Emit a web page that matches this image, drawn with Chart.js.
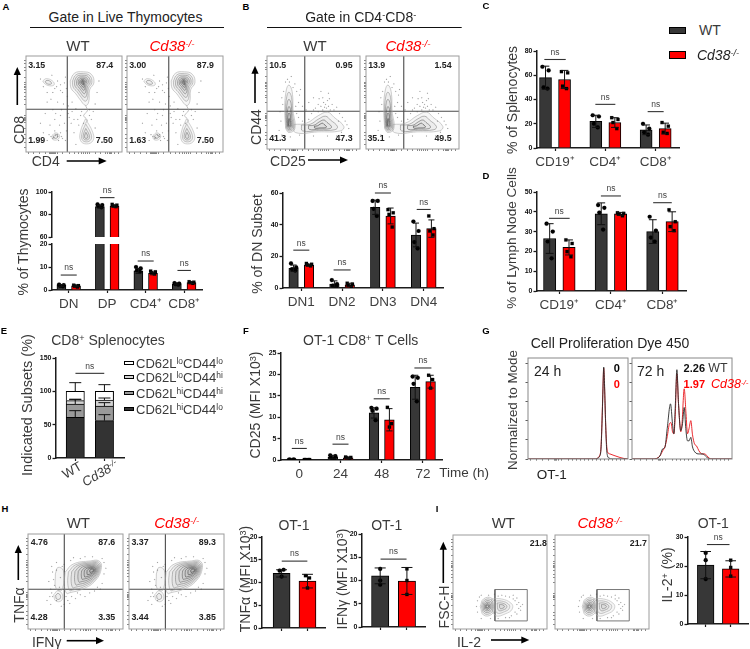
<!DOCTYPE html>
<html><head><meta charset="utf-8">
<script src="https://cdn.jsdelivr.net/npm/chart.js@4"></script>
<style>
html,body{margin:0;padding:0;background:#fff}
#page{position:relative;width:750px;height:649px;overflow:hidden;background:#fff;font-family:"Liberation Sans",Arial,sans-serif;filter:blur(.3px)}
#page canvas{position:absolute}
#page svg{position:absolute;left:0;top:0}
.t{position:absolute;white-space:nowrap;transform-origin:center;color:#3a3a3a;line-height:1}
.t sup{font-size:.65em;line-height:0;vertical-align:baseline;position:relative;top:-.42em}
.sw{position:absolute;box-sizing:border-box}
</style></head><body><div id="page"></div>
<script>
/* ---------- bar values ---------- */
const thymoLabels=['DN','DP','CD4⁺','CD8⁺'];
const thymoWT=[2,87,8.3,2.6], thymoKO=[1.8,87.5,7.2,3.2];
const thymoWTErr=[.4,1.2,1.1,.4], thymoKOErr=[.4,1,.6,.4];
const thymoWTPts=[[2.4,2.1,1.8,1.6],[89,88.4,87.4,86.4],[10,9.4,8.5,7.9],[3,2.8,2.5,2.3]];
const thymoKOPts=[[2.1,1.9,1.7,1.3],[89,88.3,87.6,87],[8.2,7.9,7.5,7],[3.6,3.4,3.2,2.9]];
const dnLabels=['DN1','DN2','DN3','DN4'];
const dnWT=[12.5,2.5,51,33.5], dnKO=[14.5,2,45.5,37.5];
const dnWTErr=[2,2,4.5,7.5], dnKOErr=[.6,1,5,5.5];
const dnWTPts=[[15.5,13,12,11],[5,2.5,1.5,1],[55,55,50,45.5],[42,36,29,25]];
const dnKOPts=[[15.5,15,14.5,14],[3,2.5,1.5,1],[49.5,47.5,46.5,38.5],[45.5,37.5,36,33.5]];
const spLabels=['CD19⁺','CD4⁺','CD8⁺'];
const spWT=[58,22,15], spKO=[56.5,21,16];
const spWTErr=[9.5,5,4], spKOErr=[7.5,4,4.5];
const spWTPts=[[67,64,50,49],[27,26,20,17],[20,16,13,11]];
const spKOPts=[[63,62,51,49],[25,23.5,21,16],[21,18,13,12]];
const lnLabels=['CD19⁺','CD4⁺','CD8⁺'];
const lnWT=[26.5,39,30], lnKO=[22,39,35];
const lnWTErr=[7.5,5.5,6], lnKOErr=[3.8,.7,5];
const lnWTPts=[[34,30,25,16.5],[43.4,42,39.6,31],[37.5,30.5,27,25]];
const lnKOPts=[[25.8,24,19.9,17.3],[39.5,39.2,38.8,38],[41,35,32.5,30.5]];
const timeLabels=['0','24','48','72'];
const cd25WT=[.1,.7,11,17], cd25KO=[.1,.5,9.4,18.3];
const cd25WTErr=[0,.4,1.2,2.8], cd25KOErr=[0,.2,2.6,1.5];
const cd25WTPts=[[.1,.1,.1,.1],[1.1,.9,.5,.2],[12.2,12,11.5,9.3],[19.5,19.2,17.8,13.7]];
const cd25KOPts=[[.1,.1,.1,.1],[.7,.6,.5,.3],[12.3,8.5,7.7],[19.8,18.8,16.8]];
const tnfWT=[12], tnfKO=[10.3], tnfWTErr=[.8], tnfKOErr=[1.5];
const tnfWTPts=[[12.6,12.8,11.3]], tnfKOPts=[[11.5,11,8.8]];
const ifnWT=[11], ifnKO=[9.9], ifnWTErr=[1.7], ifnKOErr=[2.9];
const ifnWTPts=[[12.5,10,9.1]], ifnKOPts=[[12.5,10,7]];
const il2WT=[20.3], il2KO=[19], il2WTErr=[4.7], il2KOErr=[2.8];
const il2WTPts=[[24.5,22,15.5]], il2KOPts=[[22,19.5,16.5]];
/* stacked subsets: bottom to top */
const subsetNames=['CD62L<sup>hi</sup>CD44<sup>lo</sup>','CD62L<sup>hi</sup>CD44<sup>hi</sup>','CD62L<sup>lo</sup>CD44<sup>hi</sup>','CD62L<sup>lo</sup>CD44<sup>lo</sup>'];
const subsetColors=['#333333','#9a9a9a','#d2d2d2','#ffffff'];
const subsetWT=[61,20,5,14], subsetKO=[56,22,9,13];
const subsetWTErr=[10,7,2,13], subsetKOErr=[9,5,3,10];
/* histograms */
const hist24WT=[[0,0],[68,0],[70,1],[71.5,2.5],[73,10],[74,35],[75,70],[75.7,91],[76.5,75],[77.5,40],[78.5,12],[79.5,3],[81,1],[84,0],[100,0]];
const hist24KO=[[0,0],[68,0],[70,1.5],[71.5,3],[73,12],[74,38],[75,72],[75.7,90],[76.5,72],[77.5,38],[78.5,16],[79.5,7],[82,5],[86,3.5],[92,1.5],[96,.5],[100,0]];
const hist72WT=[[0,0],[21.3,0],[27.9,3],[30.6,10],[32.9,11.6],[35.2,30],[38.5,54.6],[40.5,35],[41.9,25],[43.2,50],[44.9,88.4],[46.5,55],[48.8,28],[50.5,35],[52.2,51],[53.8,30],[55.5,18],[57.1,18],[58.8,21.5],[60.5,12],[62.8,7],[67.1,5],[71,5],[74.4,2],[78.4,0],[100,0]];
const hist72KO=[[0,0],[21,0],[27.9,3],[30.6,8],[32.9,12],[35.2,22],[37.5,35],[39,36],[40.5,27],[41.9,25],[43.2,42],[44.9,84.4],[46.5,55],[48.8,27],[50,35],[52.2,69.5],[54,45],[55.5,25],[57,30],[58.8,38],[60.5,24],[62.5,15],[64.5,13],[67,8],[70,5],[73,5],[75,3],[79,0],[100,0]];
const histYTicks=[0,19,38,57,76,95];
const histXTicks=[2,8,14,20,26,27,28,30,33,40,44,48,52,56,60,64,68,72,76,80,84,88,92,96];
/* flow cytometry outlines */
const dpOuter=[[46,74],[50.5,82],[59.6,83.5],[68,81],[70.7,72],[66.4,65],[65.3,52],[62,48.5],[56,55],[51.9,60.6],[47,66.3],[46,74]];
const dpTail=[[62,48.5],[64,43],[60,38],[64,33],[62,30]];
const spOuter=[[62,34.7],[69.7,20],[69.7,11.8],[63,8.4],[56.9,11.8],[56.9,21.9],[62,34.7]];
const cd8Outer=[[17.5,74],[20.9,76.4],[27.6,74],[29.3,70],[24.2,69],[19.2,71.4],[17.5,74]];
const dnSmall=[[27,17],[31,20],[35,17],[33,13],[28,13],[27,17]];
const dotsA=[[15,76],[18,68],[27,80],[30,66],[33,74],[36,70],[38,62],[41,78],[43,58],[33,52],[26,55],[39,50],[44,48],[48,52],[52,45],[58,42],[66,44],[70,42],[72,50],[74,62],[76,74],[60,30],[66,38],[57,38],[55,28],[72,25],[74,15],[50,20],[52,8],[20,40],[28,44],[36,38],[40,30],[25,28],[30,22],[33,18],[28,14],[34,12],[36,20],[24,18],[38,14],[42,22],[45,36],[15,30],[22,52],[47,30],[48,42],[30,34],[35,28],[31,17],[33,16],[29,15],[26,16],[37,16],[42,66],[40,72],[36,64],[32,68],[28,62],[22,62],[44,40],[50,34],[54,34],[68,34],[37,44],[31,40],[41,12],[22,12],[18,20]];
const dnVert=[[20,21.9],[19.1,44.4],[20.8,63.5],[23.6,68.8],[27,61.8],[28.1,41],[29.9,21.9],[23.6,17.7],[20,21.9]];
const dnHoriz=[[28.8,26.4],[42.4,27.8],[54.9,35.7],[65,39.6],[72.2,34],[82.6,24.3],[79,19.5],[54.9,18.4],[30.6,17.7],[28.8,26.4]];
const dotsB=[[22,75],[26,78],[24,72],[20,72],[30,70],[28,66],[32,62],[35,58],[34,50],[38,46],[42,42],[36,64],[38,30],[45,32],[50,42],[55,48],[60,55],[65,52],[62,45],[70,48],[66,60],[75,45],[58,62],[50,55],[45,50],[78,38],[84,30],[88,22],[80,18],[14,40],[15,30],[16,55],[13,20],[16,15],[25,13],[35,15],[50,14],[65,14],[75,14],[55,40],[60,42],[64,44],[68,42],[58,46],[63,48],[66,46],[72,42],[48,38],[52,44],[31,46],[32,38],[34,34],[17,48],[18,62],[86,26],[77,30],[81,34],[56,54],[61,50],[67,54]];
const tnfBig=[[39,59.7],[47.5,68.3],[66,71.7],[74.6,71.7],[77.3,64.8],[71.2,51.2],[57.6,42],[44,38.2],[40.7,37.5],[38.3,46],[39,59.7]];
const tnfLow=[[27,36],[31.5,40.3],[36.3,36],[35,29.7],[29,29.7],[27,36]];
const tnfCol=[[28.8,58],[31.5,64.8],[37.3,61.4],[35.6,41],[29.5,42.7],[28.8,58]];
const dotsH=[[25,66],[30,70],[22,50],[24,42],[20,30],[24,26],[38,26],[42,30],[50,32],[60,34],[70,40],[78,48],[80,58],[80,70],[78,74],[68,76],[55,74],[45,72],[38,68],[30,30],[35,24],[55,36],[65,38],[73,44],[26,60],[26,34],[40,34],[27,52],[28,46],[33,44],[34,54],[30,62],[46,34],[52,38],[82,64],[76,42],[48,75],[60,76],[36,66],[25,38],[23,34],[44,27]];
const il2Ball=[[29,24],[32.5,32],[41,32.8],[44.5,24],[41,15.5],[32.5,14.8],[29,24]];
const il2Tail=[[41,32],[51.4,32],[61.6,27.6],[63.4,22.4],[58.2,17.2],[44.5,14.8],[41,32]];
const dotsI=[[60,34],[66,30],[68,26],[70,22],[66,18],[62,14],[56,12],[48,11],[40,11],[30,11],[26,18],[26,30],[30,36],[38,36],[48,35],[56,35],[64,32],[72,24],[72,20],[68,33],[74,26],[70,28],[64,36],[52,36],[68,16],[60,12],[44,37],[28,34],[25,24]];
const gateI=[[44.6,8.6],[79,8.6],[79,42],[44.6,42],[44.6,8.6]];
const flowXTicks=[3,8,14,20,24,26,27,28,29,30,31,33,38,45,50,55,58,60,62,64,66,72,78,83,85,87,88,89,92,96];
const flowYTicks=[5,10,14,18,25,31,33,34,35,36,38,50,55,58,62,65,67,68,70,72,78,85,88,92,95];
const ringsDP=[1,.82,.66,.5,.36,.24,.14,.07];
const ringsFour=[1,.72,.46,.24];
const ringsTwo=[1,.55];
const ringsOne=[1];
const ringsBig=[1,.88,.76,.64,.52,.4,.3,.2,.1];
const ringsBall=[1,.82,.64,.46,.3,.16];

const FONT='"Liberation Sans",Arial,sans-serif';
const page=document.getElementById('page');
Chart.defaults.font.family=FONT;
const BASE={responsive:false,animation:false,devicePixelRatio:1,events:[]};
const AXC='#1c1c1c';

function mkCanvas(p,pad){
  const c=document.createElement('canvas');
  c.width=Math.round(p[1]-p[0]+pad.left+pad.right);
  c.height=Math.round(p[3]-p[2]+pad.top+pad.bottom);
  c.style.left=(p[0]-pad.left)+'px';c.style.top=(p[2]-pad.top)+'px';
  page.appendChild(c);return c;
}
function flat(s,w,h){
  if(h!==undefined)s.height=h;if(w!==undefined)s.width=w;
  s.paddingLeft=s.paddingRight=s.paddingTop=s.paddingBottom=0;
}
/* grouped bar panel with points, error bars and ns brackets */
function barPanel(o){
  const [x0,x1,yT,yB]=o.plot;
  const pad={left:30,right:8,top:16,bottom:30};
  const u=px=>px/o.step;
  const xMin=(x0-o.c0)/o.step,xMax=(x1-o.c0)/o.step,off=u(o.off);
  const mk=(vals,sign)=>vals.map((v,i)=>({x:i+sign*off,y:v}));
  const jit={3:[-2,2,0],4:[-2.6,2.6,-1.6,1.6]};
  const pts=(arr,sign)=>arr.flatMap((g,i)=>g.map((v,j)=>({x:i+sign*off+u((jit[g.length]||jit[4])[j]*(o.jit===undefined?1:o.jit)),y:v})));
  const bw=o.barW;
  const ds=[
   {type:'scatter',data:pts(o.wtPts,-1),backgroundColor:'#000',pointStyle:'circle',pointRadius:o.r||2.1,order:0},
   {type:'scatter',data:pts(o.koPts,1),backgroundColor:'#000',pointStyle:'rect',pointRadius:(o.r||2.1)*1.1,order:0},
   {type:'bar',data:mk(o.wt,-1),backgroundColor:'#373737',borderColor:'#000',borderWidth:1,maxBarThickness:bw,barPercentage:1,categoryPercentage:1,grouped:false,order:1},
   {type:'bar',data:mk(o.ko,1),backgroundColor:'#ff0000',borderColor:'#000',borderWidth:1,maxBarThickness:bw,barPercentage:1,categoryPercentage:1,grouped:false,order:1}
  ];
  const tickVals=o.barTicks?[-off,off]:o.labels.map((_,i)=>i);
  const overlay={id:'marks',afterDatasetsDraw(ch){
    const X=ch.scales.x,Y=ch.scales.y,c=ch.ctx;
    c.save();c.strokeStyle='#111';c.lineWidth=1;
    const cap=bw*.32;
    [[o.wt,o.wtErr,-1],[o.ko,o.koErr,1]].forEach(([m,e,s])=>m.forEach((v,i)=>{
      if(v<Y.min||v>Y.max||!e[i])return;
      const px=X.getPixelForValue(i+s*off),a=Y.getPixelForValue(v-e[i]),b=Y.getPixelForValue(v+e[i]);
      c.beginPath();c.moveTo(px,a);c.lineTo(px,b);c.moveTo(px-cap,a);c.lineTo(px+cap,a);c.moveTo(px-cap,b);c.lineTo(px+cap,b);c.stroke();
    }));
    (o.ns||[]).forEach(([g,val,half])=>{
      const px=X.getPixelForValue(g),py=Y.getPixelForValue(val);
      c.strokeStyle='#333';c.lineWidth=1.1;c.beginPath();c.moveTo(px-half,py);c.lineTo(px+half,py);c.stroke();
      c.fillStyle='#444';c.font='8.5px '+FONT;c.textAlign='center';c.textBaseline='middle';c.fillText('ns',px,py-7);
    });
    c.restore();
  }};
  new Chart(mkCanvas(o.plot,pad),{type:'bar',data:{datasets:ds},plugins:[overlay],options:{...BASE,
    layout:{padding:{left:0,right:pad.right,top:pad.top,bottom:0}},
    plugins:{legend:{display:false},tooltip:{enabled:false}},
    scales:{
      x:{type:'linear',offset:false,display:o.noX?false:true,min:xMin,max:xMax,
        afterBuildTicks(s){s.ticks=tickVals.map(v=>({value:v}));},
        afterFit(s){flat(s,undefined,pad.bottom);},
        grid:{offset:false,drawOnChartArea:false,tickLength:3,tickWidth:1.2,tickColor:AXC},
        border:{color:AXC,width:1.5},
        ticks:{autoSkip:false,maxRotation:0,padding:o.labPad===undefined?3:o.labPad,color:'#3f3f3f',font:{size:13.5},
          callback:(v,i)=>o.barTicks?'':o.labels[i]}},
      y:{type:'linear',min:o.yMin,max:o.yMax,
        afterBuildTicks(s){const t=[];for(let v=o.yMin;v<=o.yMax+1e-6;v+=o.yStep)t.push({value:v});s.ticks=t;},
        afterFit(s){flat(s,pad.left);},
        grid:{drawOnChartArea:false,tickLength:3.5,tickWidth:1.3,tickColor:AXC},
        border:{color:AXC,width:1.5},
        ticks:{padding:1,color:'#111',font:{size:7,weight:'bold'}}}
    }}});
}
/* flow plots: contours as closed line datasets on 0-100 axes */
function ringSet(outline,center,scales,dark){
  const n=scales.length;
  return scales.map((s,i)=>{
    const shade=n>1?Math.round((dark?165:175)-(dark?125:65)*i/(n-1)):165;
    return {data:outline.map(p=>({x:center[0]+(p[0]-center[0])*s,y:center[1]+(p[1]-center[1])*s})),
      showLine:true,tension:.45,pointRadius:0,borderWidth:.55,
      borderColor:`rgb(${shade},${shade},${shade})`,fill:'shape',backgroundColor:'rgba(70,70,70,.05)'};
  });
}
function plain(points,color,w,tension){
  return {data:points.map(p=>({x:p[0],y:p[1]})),showLine:true,pointRadius:0,borderColor:color,borderWidth:w,tension:tension||0,fill:false};
}
function flowPanel(o){
  const pad={left:5,right:2,top:2,bottom:5};
  const ds=[];
  (o.quad?[plain([[o.quad[0],0],[o.quad[0],100]],'#4a4a4a',1.1),plain([[0,o.quad[1]],[100,o.quad[1]]],'#4a4a4a',1.1)]:[]).forEach(d=>ds.push(d));
  if(o.gate)ds.push(plain(o.gate,'#6a6a6a',.9));
  (o.lines||[]).forEach(l=>ds.push(plain(l,'#9a9a9a',.6,.3)));
  (o.rings||[]).forEach(r=>ringSet(r[0],r[1],r[2],r[3]).forEach(d=>ds.push(d)));
  ds.push({data:o.dots.map(p=>({x:p[0]+(o.dx||0),y:p[1]+(o.dy||0)})),pointRadius:.42,backgroundColor:'#777',showLine:false});
  ds.reverse();
  const frame={id:'frame',afterDraw(ch){const a=ch.chartArea,c=ch.ctx;c.save();c.strokeStyle='#9c9c9c';c.lineWidth=1;c.strokeRect(a.left,a.top,a.width,a.height);c.restore();}};
  new Chart(mkCanvas(o.plot,pad),{type:'scatter',data:{datasets:ds},plugins:[frame],options:{...BASE,layout:{padding:{left:0,right:pad.right,top:pad.top,bottom:0}},
    plugins:{legend:{display:false},tooltip:{enabled:false}},
    scales:{
      x:{type:'linear',min:0,max:100,afterBuildTicks(s){s.ticks=flowXTicks.map(v=>({value:v}));},afterFit(s){flat(s,undefined,pad.bottom);},
        grid:{drawOnChartArea:false,tickLength:2,tickWidth:.7,tickColor:'#555'},border:{display:false},ticks:{display:false}},
      y:{type:'linear',min:0,max:100,afterBuildTicks(s){s.ticks=flowYTicks.map(v=>({value:v}));},afterFit(s){flat(s,pad.left);},
        grid:{drawOnChartArea:false,tickLength:2,tickWidth:.7,tickColor:'#555'},border:{display:false},ticks:{display:false}}
    }}});
}
function histPanel(plot,wt,ko){
  const pad={left:5,right:2,top:2,bottom:5};
  const ln=(a,c,w)=>({data:a.map(p=>({x:p[0],y:p[1]})),showLine:true,pointRadius:0,borderColor:c,borderWidth:w,cubicInterpolationMode:'monotone',fill:false});
  const frame={id:'frame',afterDraw(ch){const a=ch.chartArea,c=ch.ctx;c.save();c.strokeStyle='#888';c.lineWidth=1;c.strokeRect(a.left,a.top,a.width,a.height);c.restore();}};
  new Chart(mkCanvas(plot,pad),{type:'scatter',data:{datasets:[ln(wt,'#2a2a2a',.9),ln(ko,'#e8141a',.9)]},plugins:[frame],options:{...BASE,layout:{padding:{left:0,right:pad.right,top:pad.top,bottom:0}},
    plugins:{legend:{display:false},tooltip:{enabled:false}},
    scales:{
      x:{type:'linear',min:0,max:100,afterBuildTicks(s){s.ticks=histXTicks.map(v=>({value:v}));},afterFit(s){flat(s,undefined,pad.bottom);},
        grid:{drawOnChartArea:false,tickLength:1.6,tickWidth:.7,tickColor:'#333'},border:{display:false},ticks:{display:false}},
      y:{type:'linear',min:0,max:100,afterBuildTicks(s){s.ticks=histYTicks.map(v=>({value:v}));},afterFit(s){flat(s,pad.left);},
        grid:{drawOnChartArea:false,tickLength:2.5,tickWidth:.8,tickColor:'#333'},border:{display:false},ticks:{display:false}}
    }}});
}
/* ---------- text + small DOM helpers ---------- */
function T(html,x,y,o){o=o||{};
  const d=document.createElement('div');d.className='t';d.innerHTML=html;
  d.style.left=x+'px';d.style.top=y+'px';
  d.style.fontSize=(o.s||14)+'px';
  d.style.transform=o.left?`translate(0,-50%)`:`translate(-50%,-50%) rotate(${o.r||0}deg)`;
  if(o.c)d.style.color=o.c; if(o.b)d.style.fontWeight='bold'; if(o.i)d.style.fontStyle='italic';
  page.appendChild(d);
}
const KO='Cd38<sup>-/-</sup>';
const NS='http://www.w3.org/2000/svg';
const svg=document.createElementNS(NS,'svg');svg.setAttribute('width',750);svg.setAttribute('height',649);
function sv(tag,a){const e=document.createElementNS(NS,tag);for(const k in a)e.setAttribute(k,a[k]);svg.appendChild(e);}
function rule(x1,x2,y){sv('line',{x1,x2,y1:y,y2:y,stroke:'#111','stroke-width':1});}
function arrow(x1,y1,x2,y2){
  const up=x1===x2;
  if(up){sv('line',{x1,x2,y1,y2:y2+7,stroke:'#000','stroke-width':1.6});sv('polygon',{points:`${x2},${y2} ${x2-3.6},${y2+8} ${x2+3.6},${y2+8}`,fill:'#000'});}
  else{sv('line',{x1,x2:x2-7,y1,y2,stroke:'#000','stroke-width':1.6});sv('polygon',{points:`${x2},${y2} ${x2-8},${y2-3.6} ${x2-8},${y2+3.6}`,fill:'#000'});}
}
function box(x,y,w,h,bg,bd){const d=document.createElement('div');d.className='sw';d.style.cssText=`left:${x}px;top:${y}px;width:${w}px;height:${h}px;background:${bg};border:${bd}`;page.appendChild(d);}

/* ---------- A ---------- */
const dpC=[59,73],spC=[62.5,16],c8C=[23,72.5];
const aRings=[[dpOuter,dpC,ringsDP,true],[spOuter,spC,ringsFour],[cd8Outer,c8C,ringsTwo],[dnSmall,[31,16.5],ringsTwo]];
flowPanel({plot:[26,125,52.7,151.7],quad:[43,44.6],rings:aRings,lines:[dpTail],dots:dotsA});
flowPanel({plot:[126.7,225.7,52.7,151.7],quad:[43.5,44.6],rings:aRings,lines:[dpTail],dots:dotsA,dx:1});
const aCommon={c0:68.7,step:38.4,off:7.3,barW:9,labels:thymoLabels,wt:thymoWT,ko:thymoKO,wtErr:thymoWTErr,koErr:thymoKOErr,wtPts:thymoWTPts,koPts:thymoKOPts,jit:.9};
barPanel({...aCommon,plot:[52,201.7,191.7,236.7],yMin:60,yMax:100,yStep:10,noX:true,ns:[[1,95,7.3]]});
barPanel({...aCommon,plot:[52,201.7,244.3,290],yMin:0,yMax:20,yStep:10,labPad:3,ns:[[0,6.5,8],[2,12.6,8],[3,8.5,6.7]]});
/* ---------- B ---------- */
const bRings=[[dnVert,[23.8,26],ringsBall,true],[dnHoriz,[58,24],ringsFour,true]];
flowPanel({plot:[267.3,363.3,53.3,149.3],quad:[40.6,40.6],rings:bRings,dots:dotsB});
flowPanel({plot:[366,462,53.3,149.3],quad:[40.6,40.6],rings:bRings,dots:dotsB});
barPanel({plot:[282.7,442.7,192.7,287.3],c0:301,step:40.8,off:7.7,barW:9.5,labels:dnLabels,wt:dnWT,ko:dnKO,wtErr:dnWTErr,koErr:dnKOErr,wtPts:dnWTPts,koPts:dnKOPts,yMin:0,yMax:60,yStep:20,ns:[[0,23.9,8],[1,11.4,8.5],[2,60,8],[3,49.6,7]]});
/* ---------- C, D ---------- */
barPanel({plot:[537.3,679,50.7,147.3],c0:555.3,step:50.2,off:9.5,barW:12,labels:spLabels,wt:spWT,ko:spKO,wtErr:spWTErr,koErr:spKOErr,wtPts:spWTPts,koPts:spKOPts,yMin:0,yMax:80,yStep:20,ns:[[0,73,10.7],[1,36,10],[2,30,8]],jit:1.2});
barPanel({plot:[537.3,686.7,192,291],c0:559.7,step:51.7,off:9.7,barW:12.3,labels:lnLabels,wt:lnWT,ko:lnKO,wtErr:lnWTErr,koErr:lnKOErr,wtPts:lnWTPts,koPts:lnKOPts,yMin:0,yMax:50,yStep:10,ns:[[0,36.7,10.3],[1,48,10],[2,44.6,9.3]],jit:1.2});
/* ---------- E stacked ---------- */
(function(){
  const plot=[55.7,123.3,358.3,458.3],pad={left:30,right:8,top:10,bottom:10};
  const ds=subsetColors.map((c,i)=>({data:[{x:0,y:subsetWT[i]},{x:1,y:subsetKO[i]}],backgroundColor:c,borderColor:'#000',borderWidth:1,maxBarThickness:18.3,barPercentage:1,categoryPercentage:1,grouped:false}));
  const overlay={id:'marks',afterDatasetsDraw(ch){
    const X=ch.scales.x,Y=ch.scales.y,c=ch.ctx;c.save();c.strokeStyle='#111';c.lineWidth=1;
    [[subsetWT,subsetWTErr,0],[subsetKO,subsetKOErr,1]].forEach(([vals,errs,g])=>{
      let sum=0;vals.forEach((v,i)=>{sum+=v;
        const px=X.getPixelForValue(g),a=Y.getPixelForValue(sum),b=Y.getPixelForValue(sum+errs[i]);
        c.beginPath();c.moveTo(px,a);c.lineTo(px,b);c.moveTo(px-6,b);c.lineTo(px+6,b);c.stroke();});
    });
    const py=Y.getPixelForValue(127),p0=X.getPixelForValue(.5);
    c.strokeStyle='#333';c.lineWidth=1.1;c.beginPath();c.moveTo(p0-14.4,py);c.lineTo(p0+14.4,py);c.stroke();
    c.fillStyle='#444';c.font='8.5px '+FONT;c.textAlign='center';c.textBaseline='middle';c.fillText('ns',p0,py-7);
    c.restore();}};
  const c0=74.85,step=29;
  new Chart(mkCanvas(plot,pad),{type:'bar',data:{datasets:ds},plugins:[overlay],options:{...BASE,layout:{padding:{left:0,right:pad.right,top:pad.top,bottom:0}},
    plugins:{legend:{display:false},tooltip:{enabled:false}},
    scales:{
      x:{type:'linear',offset:false,min:(plot[0]-c0)/step,max:(plot[1]-c0)/step,afterBuildTicks(s){s.ticks=[{value:0},{value:1}];},afterFit(s){flat(s,undefined,pad.bottom);},
         grid:{offset:false,drawOnChartArea:false,tickLength:3,tickWidth:1.2,tickColor:AXC},border:{color:AXC,width:1.5},ticks:{display:false}},
      y:{type:'linear',stacked:true,min:0,max:150,afterBuildTicks(s){s.ticks=[0,50,100,150].map(v=>({value:v}));},afterFit(s){flat(s,pad.left);},
         grid:{drawOnChartArea:false,tickLength:3.5,tickWidth:1.3,tickColor:AXC},border:{color:AXC,width:1.5},ticks:{padding:1,color:'#111',font:{size:7,weight:'bold'}}}
    }}});
})();
/* ---------- F ---------- */
barPanel({plot:[280.7,441.7,353.3,460],c0:299,step:41.2,off:7.7,barW:9.7,labels:timeLabels,wt:cd25WT,ko:cd25KO,wtErr:cd25WTErr,koErr:cd25KOErr,wtPts:cd25WTPts,koPts:cd25KOPts,yMin:0,yMax:25,yStep:5,ns:[[0,2.7,7.5],[1,3.7,8],[2,14.3,8],[3,21.5,8.5]]});
/* ---------- G ---------- */
histPanel([527.7,628,357.7,458.3],hist24WT,hist24KO);
histPanel([632,732.3,357.7,458.3],hist72WT,hist72KO);
/* ---------- H ---------- */
const hRings=[[tnfBig,[68,62],ringsBig,true],[tnfLow,[31.5,34],ringsTwo],[tnfCol,[33,52],ringsOne]];
flowPanel({plot:[28.3,126.7,530.7,628.3],quad:[38.2,41.9],rings:hRings,dots:dotsH});
flowPanel({plot:[128.7,227,530.7,628.3],quad:[38.3,41.9],rings:hRings,dots:dotsH});
barPanel({plot:[261.7,325,536.7,627.3],c0:294.4,step:26,off:13,barW:17,labels:[''],barTicks:true,wt:tnfWT,ko:tnfKO,wtErr:tnfWTErr,koErr:tnfKOErr,wtPts:tnfWTPts,koPts:tnfKOPts,yMin:0,yMax:20,yStep:5,ns:[[0,14.7,12.8]]});
barPanel({plot:[362.3,425,534,627.3],c0:393.7,step:26.6,off:13.3,barW:17.3,labels:[''],barTicks:true,wt:ifnWT,ko:ifnKO,wtErr:ifnWTErr,koErr:ifnKOErr,wtPts:ifnWTPts,koPts:ifnKOPts,yMin:0,yMax:20,yStep:5,jit:0,ns:[[0,14.6,13]]});
/* ---------- I ---------- */
const iRings=[[il2Tail,[52,24],ringsFour],[il2Ball,[36.5,24],ringsBall,true]];
flowPanel({plot:[453.3,550.7,531.7,628.3],gate:gateI,rings:iRings,dots:dotsI});
flowPanel({plot:[554.7,651.7,531.7,628.3],gate:gateI,rings:iRings,dots:dotsI});
barPanel({plot:[688.3,748.3,537.3,624.3],c0:718.5,step:25,off:12.5,barW:16.6,labels:[''],barTicks:true,wt:il2WT,ko:il2KO,wtErr:il2WTErr,koErr:il2KOErr,wtPts:il2WTPts,koPts:il2KOPts,yMin:0,yMax:30,yStep:10,jit:0,ns:[[0,27.4,11.3]]});

/* ---------- annotations ---------- */
[['A',6,7],['B',246,7],['C',486,6],['D',486,176],['E',4,331],['F',246,331],['G',486,331],['H',5,509],['I',437,509]].forEach(p=>T(p[0],p[1],p[2],{s:9.5,b:true,c:'#000'}));
T('Gate in Live Thymocytes',125.5,16.5,{s:14,c:'#222'});rule(30,224,27.5);
T('Gate in CD4<sup>-</sup>CD8<sup>-</sup>',360.7,16.5,{s:14,c:'#222'});rule(267,461.7,27.5);
[[78,45],[315,45],[78.3,521.7],[503.3,521.7]].forEach(p=>T('WT',p[0],p[1],{s:15}));
[[172,45],[408,45],[176.7,521.7],[600,521.7]].forEach(p=>T(KO,p[0],p[1],{s:15,c:'#ff0000',i:true}));
const flowNums=[['3.15',36.7,65],['87.4',104.7,65],['1.99',36.7,140],['7.50',104.3,140],['3.00',137.7,65],['87.9',205.3,65],['1.63',137.7,140],['7.50',205.3,140],
['10.5',277.7,65],['0.95',344,65],['41.3',277.7,138.3],['47.3',344,138.3],['13.9',376.7,65],['1.54',443,65],['35.1',376,138.3],['49.5',443,138.3],
['4.76',39.3,542.3],['87.6',106.7,542.3],['4.28',39,616.7],['3.35',106.7,616.7],['3.37',140,542.3],['89.3',207.3,542.3],['3.44',140,616.7],['3.85',207.3,616.7],
['21.8',538.3,543.3],['21.7',638.3,543.3]];
flowNums.forEach(n=>T(n[0],n[1],n[2],{s:8.8,b:true,c:'#222'}));
T('CD8',19,130,{s:14,r:-90});arrow(17.3,105,17.3,67);
T('CD4',45.7,161,{s:14});arrow(66.7,161,106.7,161);
T('CD44',256,126.7,{s:14,r:-90});arrow(255,103,255,65.7);
T('CD25',288,161,{s:14});arrow(308,160,348,160);
T('% of Thymocytes',22.7,241.7,{s:14,r:-90});
T('% of DN Subset',256.7,244,{s:14,r:-90});
T('% of Splenocytes',511.7,100,{s:14,r:-90});
T('% of Lymph Node Cells',512,238,{s:13.6,r:-90});
box(668.7,26.7,17.3,7.5,'#373737','1.5px solid #000');T('WT',710,30,{s:14});
box(668.7,51,17.3,7.5,'#ff0000','1.5px solid #000');T(KO,718,55,{s:14,i:true,c:'#222'});
T('Indicated Subsets (%)',26.7,405,{s:14.5,r:-90});
T('CD8<sup>+</sup> Splenocytes',108,340,{s:14});
[[3,362.7],[2,377],[1,392.7],[0,408.7]].forEach(p=>{box(124,p[1]-2.2,9.5,4.5,subsetColors[p[0]],'1px solid #000');T(subsetNames[p[0]],136,p[1],{s:13,left:true});});
T('WT',71.7,470,{s:13,r:-30});T(KO,100,473,{s:13,r:-30,i:true});
T('OT-1 CD8<sup>+</sup> T Cells',360.7,340,{s:14});
T('CD25 (MFI X10<sup>3</sup>)',255,405,{s:14,r:-90});
T('Time (h)',439.3,473,{s:13.5,left:true});
T('Cell Proliferation Dye 450',610,342.7,{s:14,c:'#222'});
T('Normalized to Mode',513.3,410,{s:13.4,r:-90});
T('OT-1',551.7,475,{s:13.5,c:'#222'});
T('24 h',547.7,371,{s:14,c:'#222'});T('72 h',650.7,371,{s:14,c:'#222'});
T('0',616.7,368.3,{s:11,b:true,c:'#000'});T('0',616.7,384.3,{s:11,b:true,c:'#ff0000'});
T('2.26',694.3,368,{s:11,b:true,c:'#111'});T('WT',718,368,{s:12.4});
T('1.97',694.3,384.3,{s:11,b:true,c:'#ff0000'});T(KO,711,384,{s:12.5,i:true,c:'#ff0000',left:true});
T('TNFα',19.3,605,{s:14,r:-90});arrow(18.3,580,18.3,545);
T('IFNγ',46.7,641.7,{s:14});arrow(66.7,640.7,104,640.7);
T('TNFα (MFI X10<sup>3</sup>)',245,579,{s:14,r:-90});
T('IFNγ (MFI X10<sup>3</sup>)',341.7,579,{s:14,r:-90});
T('OT-1',294,525,{s:14});T('OT-1',386.7,525,{s:14});T('OT-1',713.3,523.3,{s:14});
T('IL-2<sup>+</sup> (%)',667.3,575,{s:14,r:-90});
T('FSC-H',444,606.7,{s:14,r:-90});arrow(443.3,583,443.3,541.7);
T('IL-2',469,641.7,{s:14});arrow(491,640,529.3,640);
page.appendChild(svg);
</script></body></html>
